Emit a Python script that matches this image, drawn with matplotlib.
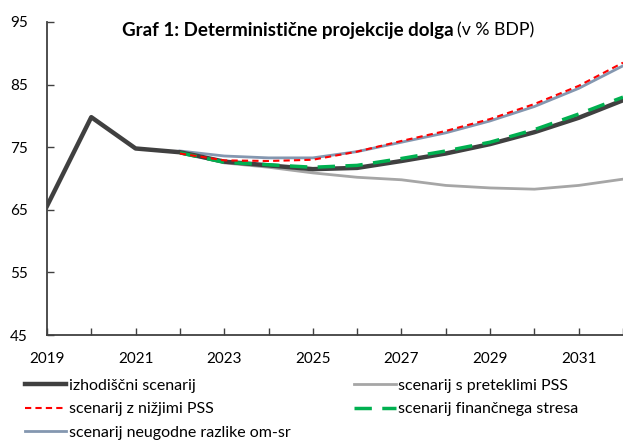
import numpy as np
import matplotlib.pyplot as plt
from matplotlib.lines import Line2D

plt.rcParams['font.family'] = ['Lato', 'DejaVu Sans']

# Data (v % BDP)
years_hist = [2019, 2020, 2021, 2022, 2023, 2024, 2025, 2026, 2027, 2028, 2029, 2030, 2031, 2032]
izhodiscni = [65.6, 79.8, 74.8, 74.2, 72.7, 72.1, 71.5, 71.7, 72.8, 74.0, 75.5, 77.4, 79.7, 82.5]

years_proj = [2022, 2023, 2024, 2025, 2026, 2027, 2028, 2029, 2030, 2031, 2032]
preteklimi = [74.2, 72.5, 71.8, 70.9, 70.2, 69.8, 68.9, 68.5, 68.3, 68.9, 69.9]
nizjimi = [74.0, 72.9, 72.8, 73.0, 74.3, 76.0, 77.6, 79.5, 81.9, 84.8, 88.5]
financni = [74.1, 72.6, 72.2, 71.8, 72.1, 73.2, 74.4, 75.8, 77.8, 80.3, 83.0]
neugodne = [74.4, 73.6, 73.3, 73.3, 74.3, 75.8, 77.3, 79.2, 81.5, 84.4, 88.0]

labels = ['izhodiščni scenarij', 'scenarij s preteklimi PSS', 'scenarij z nižjimi PSS',
          'scenarij finančnega stresa', 'scenarij neugodne razlike om-sr']

fig = plt.figure(figsize=(6.23, 4.45), dpi=100)
ax = fig.add_axes([0.0754, 0.247, 0.9246, 0.7036])

l_pret, = ax.plot(years_proj, preteklimi, color='#A6A6A6', lw=2.0, label=labels[1])
l_neug, = ax.plot(years_proj, neugodne, color='#8497B0', lw=2.0, label=labels[4])
l_izh, = ax.plot(years_hist, izhodiscni, color='#404040', lw=3.2, label=labels[0])
l_fin, = ax.plot(years_proj, financni, color='#00B050', lw=2.5, dashes=(5, 3), label=labels[3])
l_niz, = ax.plot(years_proj, nizjimi, color='#FF0000', lw=1.5, dashes=(3, 2), label=labels[2])

ax.set_xlim(2019, 2032)
ax.set_ylim(45, 95)
ax.set_yticks(np.arange(45, 96, 10))
ax.set_xticks(np.arange(2019, 2033, 1))
ax.set_xticklabels([str(y) if (y - 2019) % 2 == 0 else '' for y in range(2019, 2033)])

for s in ['top', 'right']:
    ax.spines[s].set_visible(False)
for s in ['left', 'bottom']:
    ax.spines[s].set_color('#404040')
    ax.spines[s].set_linewidth(1.3)
ax.tick_params(axis='x', direction='in', length=5, width=1, color='#404040', labelsize=11, pad=12)
ax.tick_params(axis='y', direction='in', length=5, width=1, color='#404040', labelsize=11, pad=14)

fig.text(0.728, 0.932, 'Graf 1: Deterministične projekcije dolga', ha='right', va='center',
         fontsize=13.5, fontweight='bold')
fig.text(0.733, 0.932, '(v % BDP)', ha='left', va='center', fontsize=12.8)

handles = [l_izh, l_niz, l_neug, l_pret, l_fin]
fig.legend(handles=handles, labels=[h.get_label() for h in handles], ncol=2,
           loc='upper left', bbox_to_anchor=(0.04, 0.149), frameon=False,
           fontsize=11.5, handlelength=2.6, handletextpad=0.15, columnspacing=4.0,
           labelspacing=0.58, borderaxespad=0, borderpad=0)

fig.savefig('out.png', dpi=100)
